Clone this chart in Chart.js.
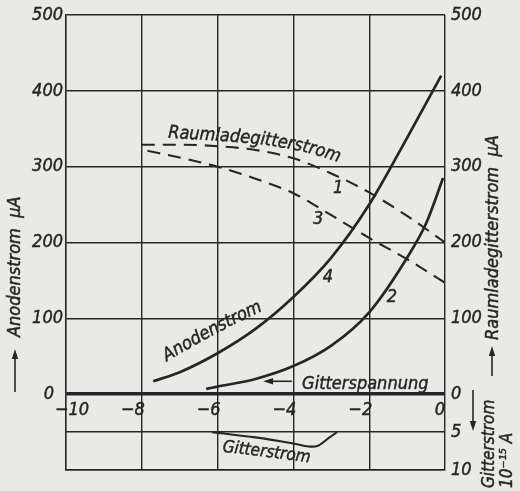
<!DOCTYPE html>
<html>
<head>
<meta charset="utf-8">
<script src="https://cdn.jsdelivr.net/npm/chart.js@4/dist/chart.umd.min.js"></script>
<style>
  html, body { margin: 0; padding: 0; background: #e9e9e7; }
  #wrap { width: 520px; height: 491px; }
</style>
</head>
<body>
<div id="wrap"><canvas id="c" width="520" height="491"></canvas></div>
<script>
// Tick labels
const gitterspannungTicks = [-10, -8, -6, -4, -2, 0];   // V
const stromTicks = [0, 100, 200, 300, 400, 500];         // µA
const gitterstromTicks = [5, 10];                        // 10^-15 A

// Raumladegitterstrom, curve 1 (µA)
const raum1X = [-8, -7, -6, -5, -4, -3, -2, -1, 0];
const raum1Y = [329, 329, 327, 322, 311, 291, 266, 235, 200];

// Raumladegitterstrom, curve 3 (µA)
const raum3X = [-7.85, -7, -6, -5, -4, -3, -2, -1, 0];
const raum3Y = [321, 312, 300, 284, 265, 236, 206, 178, 147];

// Anodenstrom, curve 4 (µA)
const anode4X = [-7.7, -7, -6, -5, -4, -3, -2, -1, -0.1];
const anode4Y = [17, 29, 54, 86, 128, 180, 250, 338, 420];

// Anodenstrom, curve 2 (µA)
const anode2X = [-6.3, -6, -5, -4, -3, -2, -1, -0.5, -0.05];
const anode2Y = [7, 10, 20, 37, 64, 108, 180, 225, 285];

// Gitterstrom (10^-15 A, plotted downwards)
const gitterX = [-6.15, -5, -4, -3.6, -3.35, -3.1, -2.85];
const gitterY = [5.0, 5.7, 6.5, 6.9, 6.8, 5.9, 5.0];

const INK = '#262626';
const FONT = '"DejaVu Sans Condensed", "DejaVu Sans", sans-serif';

const pts = (xs, ys) => xs.map((x, i) => ({ x, y: ys[i] }));

// text with a light outline so the strokes look as heavy as print
function ink(ctx, s, x, y) {
  ctx.fillText(s, x, y);
  ctx.strokeText(s, x, y);
}

// letters placed one by one, turning from angle a0 to a1 (bend > 1 keeps the start flatter)
function curvedText(ctx, text, x, y, a0, a1, bend = 1) {
  const n = text.length;
  for (let i = 0; i < n; i++) {
    const t = n > 1 ? i / (n - 1) : 0;
    const a = a0 + (a1 - a0) * Math.pow(t, bend);
    const ch = text[i];
    ctx.save();
    ctx.translate(x, y);
    ctx.rotate(a);
    ink(ctx, ch, 0, 0);
    ctx.restore();
    const w = ctx.measureText(ch).width;
    x += w * Math.cos(a);
    y += w * Math.sin(a);
  }
}

function vertText(ctx, text, x, y) {
  ctx.save();
  ctx.translate(x, y);
  ctx.rotate(-Math.PI / 2);
  ctx.textAlign = 'left';
  ctx.textBaseline = 'middle';
  ink(ctx, text, 0, 0);
  ctx.restore();
}

function arrow(ctx, x1, y1, x2, y2) {
  // shaft from (x1,y1) to head at (x2,y2)
  const a = Math.atan2(y2 - y1, x2 - x1);
  const L = 10, W = 3.2;
  ctx.save();
  ctx.beginPath();
  ctx.moveTo(x1, y1);
  ctx.lineTo(x2 - L * 0.6 * Math.cos(a), y2 - L * 0.6 * Math.sin(a));
  ctx.lineWidth = 1.6;
  ctx.strokeStyle = INK;
  ctx.stroke();
  ctx.beginPath();
  ctx.moveTo(x2, y2);
  ctx.lineTo(x2 - L * Math.cos(a) + W * Math.sin(a), y2 - L * Math.sin(a) - W * Math.cos(a));
  ctx.lineTo(x2 - L * Math.cos(a) - W * Math.sin(a), y2 - L * Math.sin(a) + W * Math.cos(a));
  ctx.closePath();
  ctx.fillStyle = INK;
  ctx.fill();
  ctx.restore();
}

const labelsPlugin = {
  id: 'labels',
  beforeDraw(chart) {
    const ctx = chart.ctx;
    ctx.save();
    ctx.fillStyle = '#e9e9e7';
    ctx.fillRect(0, 0, chart.width, chart.height);
    ctx.restore();
  },
  afterDraw(chart) {
    const ctx = chart.ctx;
    const xs = chart.scales.x, yL = chart.scales.yL, yR = chart.scales.yR, yG = chart.scales.yG;
    const area = chart.chartArea;
    ctx.save();
    ctx.fillStyle = INK;
    ctx.strokeStyle = INK;
    ctx.lineWidth = 0.45;

    // left tick labels
    ctx.font = 'italic 18px ' + FONT;
    ctx.textBaseline = 'middle';
    ctx.textAlign = 'right';
    stromTicks.forEach(v => {
      ink(ctx, String(v), v === 0 ? area.left - 12 : area.left - 3, yL.getPixelForValue(v));
    });

    // right tick labels
    ctx.textAlign = 'left';
    stromTicks.forEach(v => ink(ctx, String(v), area.right + 6, yR.getPixelForValue(v)));
    gitterstromTicks.forEach(v => ink(ctx, String(v), area.right + 6, yG.getPixelForValue(v)));

    // x tick labels, just below the zero line
    const ty = yL.getPixelForValue(0) + 16;
    gitterspannungTicks.forEach(v => {
      const lab = v < 0 ? '\u2212' + Math.abs(v) : String(v);
      const px = xs.getPixelForValue(v);
      if (v === xs.min) { ctx.textAlign = 'left'; ink(ctx, lab, px - 11, ty); }
      else { ctx.textAlign = 'right'; ink(ctx, lab, px + (v === 0 ? 0 : 3), ty); }
    });

    // curve numbers
    ctx.textAlign = 'center';
    ink(ctx, '1', xs.getPixelForValue(-2.82), yR.getPixelForValue(272));
    ink(ctx, '3', xs.getPixelForValue(-3.35), yR.getPixelForValue(230));
    ink(ctx, '4', xs.getPixelForValue(-3.09), yL.getPixelForValue(154));
    ink(ctx, '2', xs.getPixelForValue(-1.4), yL.getPixelForValue(128));

    // curve names
    ctx.textAlign = 'left';
    ctx.textBaseline = 'alphabetic';
    ctx.font = 'italic 18px ' + FONT;
    curvedText(ctx, 'Raumladegitterstrom', xs.getPixelForValue(-7.31), yR.getPixelForValue(338),
      3 * Math.PI / 180, 18 * Math.PI / 180, 2);
    curvedText(ctx, 'Anodenstrom', xs.getPixelForValue(-7.34), yL.getPixelForValue(43),
      -31 * Math.PI / 180, -25 * Math.PI / 180);
    ink(ctx, 'Gitterspannung', xs.getPixelForValue(-3.77), yL.getPixelForValue(7));
    arrow(ctx, xs.getPixelForValue(-4.04), yL.getPixelForValue(17),
               xs.getPixelForValue(-4.8), yL.getPixelForValue(17));
    ctx.font = 'italic 17px ' + FONT;
    curvedText(ctx, 'Gitterstrom', xs.getPixelForValue(-5.88), yG.getPixelForValue(7.6),
      6 * Math.PI / 180, 8 * Math.PI / 180);

    // axis titles
    ctx.font = 'italic 18px ' + FONT;
    vertText(ctx, 'Anodenstrom  \u00b5A', 15, 337);
    arrow(ctx, 15, 392, 15, 349);
    vertText(ctx, 'Raumladegitterstrom  \u00b5A', 493, 340);
    arrow(ctx, 492, 376, 492, 346);
    ctx.font = 'italic 17px ' + FONT;
    vertText(ctx, 'Gitterstrom', 490, 488);
    vertText(ctx, '10\u207b\u00b9\u2075 A', 508, 488);
    arrow(ctx, 473, 390, 473, 431);

    ctx.restore();
  }
};

const solid = { borderColor: INK, borderWidth: 2.7, pointRadius: 0, fill: false, cubicInterpolationMode: 'monotone' };
const dashed = { borderColor: INK, borderWidth: 2.1, borderDash: [13, 8], pointRadius: 0, fill: false, cubicInterpolationMode: 'monotone' };

new Chart(document.getElementById('c'), {
  type: 'line',
  data: {
    datasets: [
      Object.assign({ label: 'Raumladegitterstrom 1', data: pts(raum1X, raum1Y), yAxisID: 'yR' }, dashed),
      Object.assign({ label: 'Raumladegitterstrom 3', data: pts(raum3X, raum3Y), yAxisID: 'yR' }, dashed),
      Object.assign({ label: 'Anodenstrom 4', data: pts(anode4X, anode4Y), yAxisID: 'yL' }, solid),
      Object.assign({ label: 'Anodenstrom 2', data: pts(anode2X, anode2Y), yAxisID: 'yL' }, solid),
      Object.assign({ label: 'Gitterstrom', data: pts(gitterX, gitterY), yAxisID: 'yG' }, solid,
        { borderWidth: 2.1, cubicInterpolationMode: 'default', tension: 0.3 })
    ]
  },
  options: {
    responsive: false,
    animation: false,
    devicePixelRatio: 1,
    layout: { padding: { left: 66, right: 75, top: 15, bottom: 21 } },
    plugins: { legend: { display: false }, tooltip: { enabled: false } },
    scales: {
      x: {
        type: 'linear', min: -10, max: 0,
        ticks: { display: false, stepSize: 2 },
        grid: { color: INK, lineWidth: 1.4, drawTicks: false },
        border: { display: true, color: INK, width: 1.4 }
      },
      yL: {
        type: 'linear', position: 'left', min: -100, max: 500,
        ticks: { display: false, stepSize: 50 },
        grid: {
          drawTicks: false,
          color: c => {
            const v = c.tick.value;
            return (v % 100 === 0 || v === -50) ? INK : 'rgba(0,0,0,0)';
          },
          lineWidth: c => (c.tick.value === 0 ? 3.5 : 1.4)
        },
        border: { display: true, color: INK, width: 1.4 }
      },
      yR: { type: 'linear', position: 'right', min: -100, max: 500, display: false },
      yG: { type: 'linear', position: 'right', min: -50, max: 10, reverse: true, display: false }
    }
  },
  plugins: [labelsPlugin]
});
</script>
</body>
</html>
